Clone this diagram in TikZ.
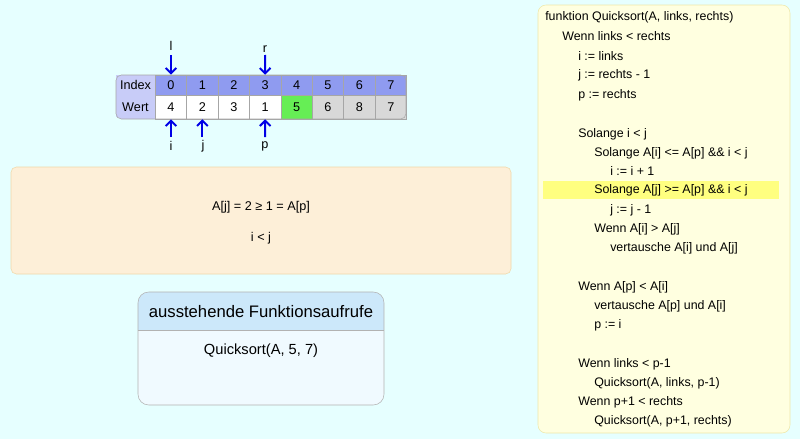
\documentclass[tikz,border=0pt]{standalone}
\usepackage{fontspec}
\setmainfont{Liberation Sans}
\usetikzlibrary{arrows.meta}
\definecolor{bg}{RGB}{230,255,255}
\definecolor{idx}{RGB}{143,155,240}
\definecolor{idxl}{RGB}{200,204,248}
\definecolor{grn}{RGB}{102,238,85}
\definecolor{gry}{RGB}{216,216,216}
\definecolor{arrb}{RGB}{0,0,230}
\definecolor{orb}{RGB}{240,216,168}
\definecolor{orf}{RGB}{253,239,216}
\definecolor{stb}{RGB}{240,250,255}
\definecolor{sth}{RGB}{204,232,250}
\definecolor{cdb}{RGB}{238,232,170}
\definecolor{cdf}{RGB}{255,255,224}
\definecolor{hl}{RGB}{255,255,128}
\begin{document}
\begin{tikzpicture}[x=0.75pt,y=-0.75pt,
  cell/.style={draw=gray!70,minimum width=23.5pt,minimum height=15pt,inner sep=0pt,anchor=center,font=\fontsize{9.5}{10}\selectfont},
  code/.style={anchor=west,inner sep=0pt,font=\fontsize{9.3}{10}\selectfont},
  arr/.style={-{Straight Barb[length=4pt,width=8pt]},draw=arrb,line width=1.5pt},
  lbl/.style={font=\fontsize{9.5}{10}\selectfont,inner sep=0pt}]
\fill[bg] (0,0) rectangle (800,439);
\useasboundingbox (0,0) rectangle (800,439);
% array
\fill[idxl,rounded corners=4pt] (116,75) rectangle (160,119);
\fill[idx,rounded corners=4pt] (400,75) rectangle (406,95);
\fill[gry,rounded corners=4pt] (400,95) rectangle (406,119);
\node[cell,fill=idxl,draw=none,minimum width=29pt] (hi) at (135.5,85) {Index};
\node[cell,fill=idxl,draw=none,minimum width=29pt] (hw) at (135.5,107) {Wert};
\foreach \k/\v/\c in {0/4/white,1/2/white,2/3/white,3/1/white,4/5/grn,5/6/gry,6/8/gry,7/7/gry}{
  \node[cell,fill=idx] (i\k) at ({171+31.4*\k},85) {\k};
  \node[cell,fill=\c,minimum height=18pt] (w\k) at ({171+31.4*\k},107) {\v};
}
\draw[gray!70,rounded corners=4pt] (116,75) rectangle (406,119);
% pointers
\node[lbl] (l) at (171,46) {l};
\node[lbl] (r) at (265,49) {r};
\draw[arr] (171,55) -- (i0.north);
\draw[arr] (265,55) -- (i3.north);
\node[lbl] (pi) at (171,146) {i};
\node[lbl] (pj) at (203,146) {j};
\node[lbl] (pp) at (265,146) {p};
\draw[arr] (171,137) -- (w0.south);
\draw[arr] (202.4,137) -- (w1.south);
\draw[arr] (265.2,137) -- (w3.south);
% condition box
\draw[draw=orb,fill=orf,rounded corners=4pt] (11,167) rectangle (511,274);
\node[lbl] (c1) at (261,207) {A[j] = 2 ≥ 1 = A[p]};
\node[lbl] (c2) at (261,238) {i < j};
% call stack
\fill[stb,rounded corners=8pt] (138,292) rectangle (384,405);
\begin{scope}
\clip[rounded corners=8pt] (138,292) rectangle (384,405);
\fill[sth] (138,292) rectangle (384,330);
\end{scope}
\draw[gray!60] (138,330) -- (384,330);
\draw[gray!60,rounded corners=8pt] (138,292) rectangle (384,405);
\node[lbl,font=\fontsize{12.5}{14}\selectfont] (st) at (261,312) {ausstehende Funktionsaufrufe};
\node[lbl,font=\fontsize{11}{12}\selectfont] (q) at (261,351) {Quicksort(A, 5, 7)};
% code
\draw[draw=cdb,fill=cdf,rounded corners=6pt] (538,5) rectangle (790,433);
\fill[hl] (543,181) rectangle (779,199);
\foreach \y/\x/\t in {17/545/{funktion Quicksort(A, links, rechts)},36/562/{Wenn links < rechts},56/578/{i := links},75/578/{j := rechts - 1},95/578/{p := rechts},134/578/{Solange i < j},153/594/{Solange A[i] <= A[p] \&\& i < j},171/610/{i := i + 1},190/594/{Solange A[j] >= A[p] \&\& i < j},210/610/{j := j - 1},229/594/{Wenn A[i] > A[j]},248/610/{vertausche A[i] und A[j]},287/578/{Wenn A[p] < A[i]},306/594/{vertausche A[p] und A[i]},325/594/{p := i},364/578/{Wenn links < p-1},383/594/{Quicksort(A, links, p-1)},402/578/{Wenn p+1 < rechts},421/594/{Quicksort(A, p+1, rechts)}}{
  \node[code] at (\x,\y) {\t};
}
\end{tikzpicture}
\end{document}
